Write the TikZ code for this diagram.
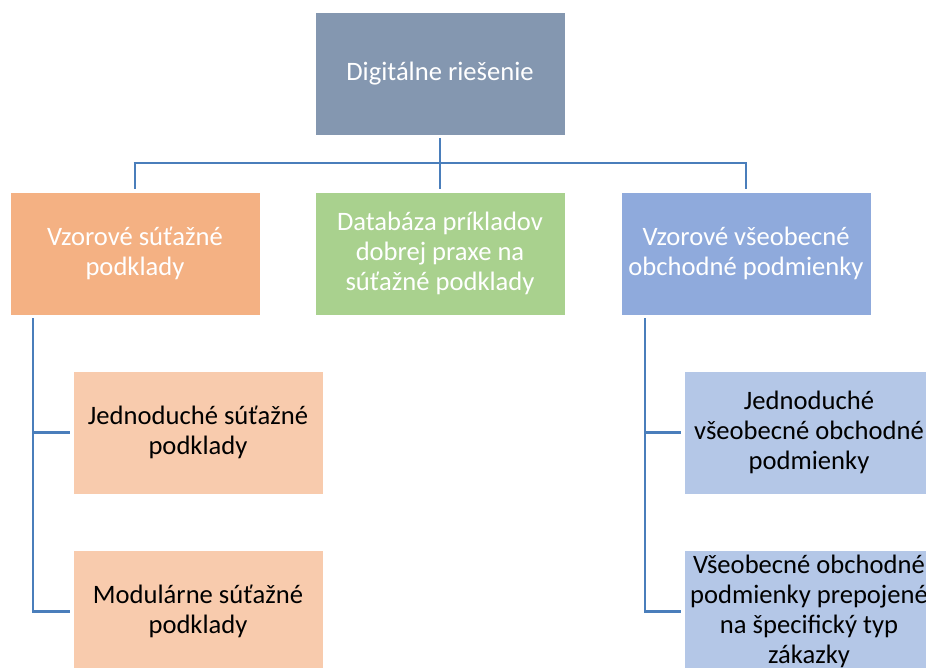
\documentclass[tikz,border=0pt]{standalone}
\usepackage{fontspec}
\setmainfont{Carlito}
\usetikzlibrary{calc}
\definecolor{topc}{HTML}{8497B0}
\definecolor{orc}{HTML}{F4B183}
\definecolor{grc}{HTML}{A9D18E}
\definecolor{blc}{HTML}{8FAADC}
\definecolor{lorc}{HTML}{F8CBAD}
\definecolor{lblc}{HTML}{B4C7E7}
\definecolor{linec}{HTML}{4A7EBB}
\begin{document}
\begin{tikzpicture}[x=1pt,y=-1pt,
  box/.style={draw=white, line width=0.6pt, minimum width=250pt, minimum height=123pt,
    anchor=north west, align=center, inner sep=2pt, outer sep=0pt,
    font=\fontsize{26.6}{30}\selectfont},
  lvl/.style={box, text=white},
  sub/.style={box, text=black},
  conn/.style={draw=linec, line width=2.9pt},
  gap/.style={shorten <=3pt, shorten >=3pt}]
\useasboundingbox (0,0) rectangle (926,668);
\clip (0,0) rectangle (926,668);
\fill[white] (0,0) rectangle (926,668);
\node[lvl, fill=topc] (top) at (315,12) {Digitálne riešenie};
\node[lvl, fill=orc] (l1a) at (10,192) {Vzorové súťažné\\podklady};
\node[lvl, fill=grc] (l1b) at (315,192) {Databáza príkladov\\dobrej praxe na\\súťažné podklady};
\node[lvl, fill=blc] (l1c) at (621,192) {Vzorové všeobecné\\obchodné podmienky};
\node[sub, fill=lorc] (c1) at (73,371) {Jednoduché súťažné\\podklady};
\node[sub, fill=lorc] (c2) at (73,550) {Modulárne súťažné\\podklady};
\node[sub, fill=lblc] (d1) at (684,371) {Jednoduché\\všeobecné obchodné\\podmienky};
\node[sub, fill=lblc] (d2) at (684,550) {Všeobecné obchodné\\podmienky prepojené\\na špecifický typ\\zákazky};
\coordinate (ls) at (33,318);
\coordinate (rs) at (645,318);
\draw[conn, gap] (top.south) -- (l1b.north);
\draw[conn, shorten >=3pt] ($(l1a.north)+(0,-29)$) -- (l1a.north);
\draw[conn, shorten >=3pt] ($(l1c.north)+(0,-29)$) -- (l1c.north);
\draw[conn] ($(l1a.north)+(-1.45,-29)$) -- ($(l1c.north)+(1.45,-29)$);
\draw[conn] (ls) |- ($(c1.west)+(-3,0)$);
\draw[conn] (ls) |- ($(c2.west)+(-3,0)$);
\draw[conn] (rs) |- ($(d1.west)+(-3,0)$);
\draw[conn] (rs) |- ($(d2.west)+(-3,0)$);
\end{tikzpicture}
\end{document}
